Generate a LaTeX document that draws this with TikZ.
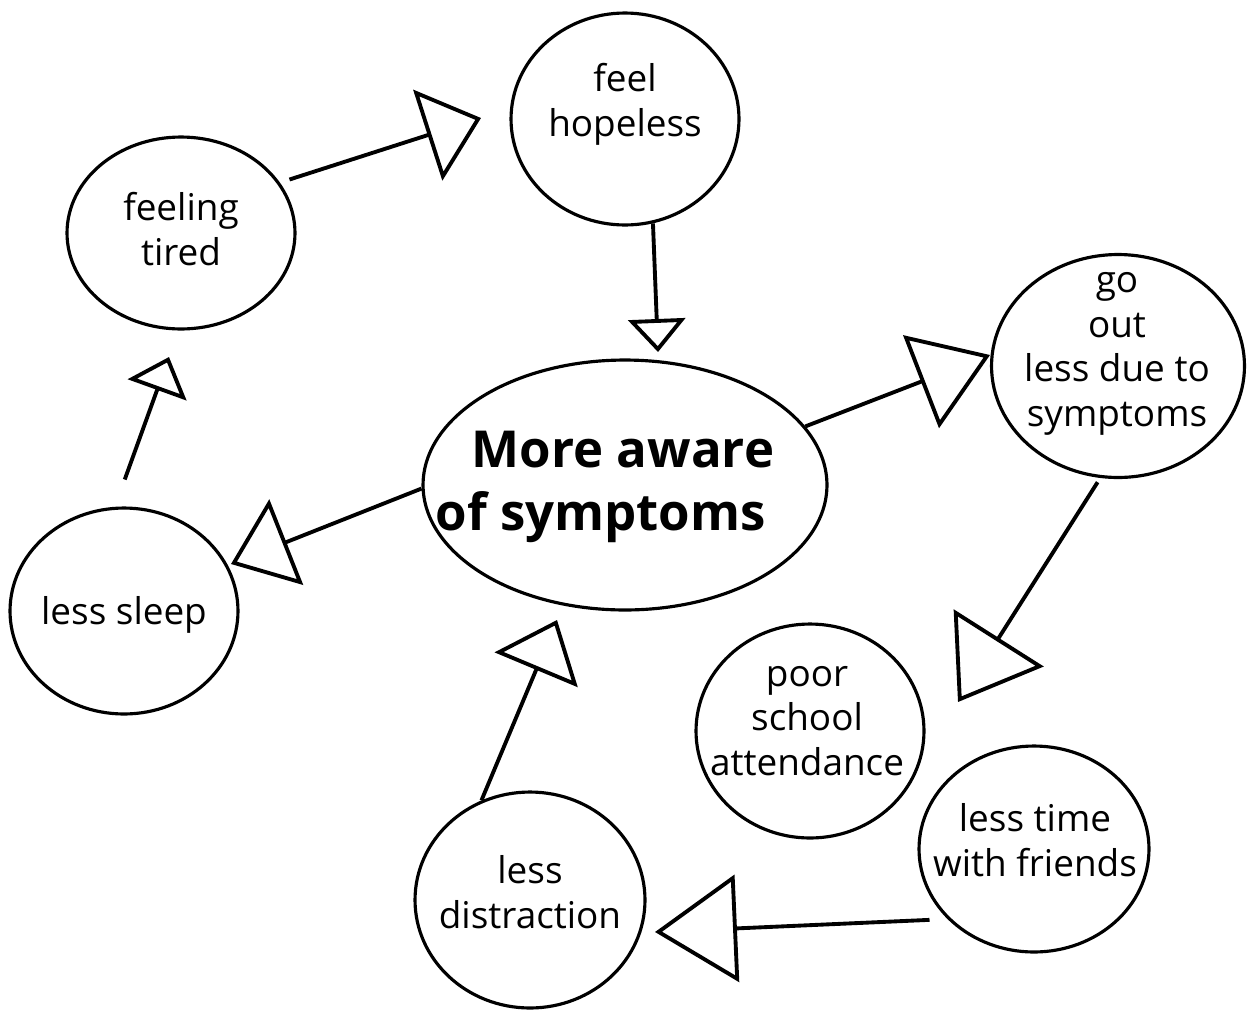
\documentclass[tikz,border=0pt]{standalone}
\usepackage{fontspec}
\setmainfont{Open Sans}
\usetikzlibrary{arrows.meta,shapes.geometric}

\begin{document}
\begin{tikzpicture}[
  x=0.02cm, y=-0.02cm,
  bubble/.style={ellipse, draw, line width=1.8pt, inner sep=0pt},
  txt/.style={align=center, inner sep=0pt, font=\fontsize{21}{25.4}\selectfont},
  link/.style={line width=2.2pt, line join=miter}
]
\useasboundingbox (0,0) rectangle (1247,1015);

% bubbles
\node[bubble, minimum width=4.56cm, minimum height=4.24cm] (hopeless) at (625,119) {};
\node[bubble, minimum width=4.56cm, minimum height=3.84cm] (tired) at (181,233) {};
\node[bubble, minimum width=8.08cm, minimum height=5.0cm] (aware) at (625,485) {};
\node[bubble, minimum width=5.06cm, minimum height=4.46cm] (goout) at (1118,366) {};
\node[bubble, minimum width=4.56cm, minimum height=4.12cm] (sleep) at (124,611) {};
\node[bubble, minimum width=4.56cm, minimum height=4.28cm] (school) at (810,731) {};
\node[bubble, minimum width=4.6cm, minimum height=4.12cm] (friends) at (1034,849) {};
\node[bubble, minimum width=4.6cm, minimum height=4.32cm] (distract) at (530,900) {};

% texts
\node[txt] (hopeless-t) at (625,104) {feel\\hopeless};
\node[txt] (tired-t) at (181,229) {feeling\\tired};
\node[txt, align=left, font=\fontsize{29}{36}\selectfont\bfseries] (aware-t) at (605,487)
  {\hspace*{0.72cm}More aware\\of symptoms};
\node[txt] (goout-t) at (1117,354) {go\\out\\less due to\\symptoms};
\node[txt] (sleep-t) at (124,615) {less sleep};
\node[txt] (school-t) at (807,721) {poor\\school\\attendance};
\node[txt] (friends-t) at (1035,840) {less time\\with friends};
\node[txt] (distract-t) at (530,892) {less\\distraction};

% arrow tips
\coordinate (tip1) at (481,118);
\coordinate (tip2) at (658,352);
\coordinate (tip3) at (990,355);
\coordinate (tip4) at (958,702);
\coordinate (tip5) at (655,932);
\coordinate (tip6) at (557,620);
\coordinate (tip7) at (231,564);
\coordinate (tip8) at (169,357);

% connectors
\draw[link, shorten <=0.2cm, -{Triangle[open, length=1.12cm, width=1.9cm]}] (tired.27) -- (tip1);
\draw[link, -{Triangle[open, length=0.66cm, width=1.14cm]}] (hopeless.-75) -- (tip2);
\draw[link, -{Triangle[open, length=1.48cm, width=1.98cm]}] (aware.18) -- (tip3);
\draw[link, shorten <=0.1cm, -{Triangle[open, length=1.52cm, width=2.12cm]}] (goout.-99) -- (tip4);
\draw[link, shorten <=0.36cm, -{Triangle[open, length=1.64cm, width=2.14cm]}] (friends.219) -- (tip5);
\draw[link, -{Triangle[open, length=1.08cm, width=1.79cm]}] (distract.116) -- (tip6);
\draw[link, -{Triangle[open, length=1.19cm, width=1.83cm]}] (aware.181) -- (tip7);
\draw[link, shorten <=0.58cm, -{Triangle[open, length=0.7cm, width=1.24cm]}] (sleep.95) -- (tip8);
\end{tikzpicture}
\end{document}
